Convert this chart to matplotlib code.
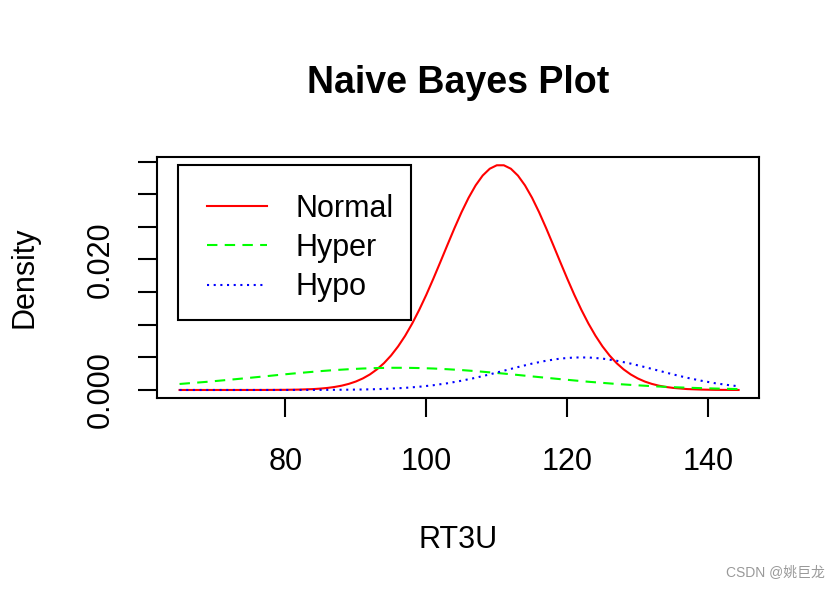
import matplotlib
matplotlib.use("Agg")
import matplotlib.pyplot as plt
from matplotlib.patches import Rectangle

# -------------------------------
# Data
# -------------------------------
rt3u = [65, 67, 69, 71, 73, 75, 77, 79, 81, 83,
        85, 87, 89, 91, 93, 95, 97, 99, 101, 103,
        105, 107, 109, 111, 113, 115, 117, 119, 121, 123,
        125, 127, 129, 131, 133, 135, 137, 139, 141, 143, 144.3]

# finer grid for the narrow "Normal" peak
rt3u_normal = [65, 69, 73, 77, 80, 82, 84, 85,
               86, 87, 88, 89, 90, 91, 92, 93, 94, 95,
               96, 97, 98, 99, 100, 101, 102, 103, 104, 105,
               106, 107, 108, 109, 110, 111, 112, 113, 114, 115,
               116, 117, 118, 119, 120, 121, 122, 123, 124, 125,
               126, 127, 128, 129, 130, 131, 132, 133, 134, 135,
               137, 139, 141, 143, 144.3]

dens_normal = [0.0, 0.0, 0.0000006, 0.000005, 0.000025, 0.00006, 0.00014, 0.000214,
               0.000317, 0.000463, 0.000661, 0.000933, 0.001294, 0.00177, 0.002381, 0.00316, 0.004112, 0.00528,
               0.006675, 0.00830, 0.010178, 0.01228, 0.01458, 0.01705, 0.01962, 0.02223, 0.02480, 0.02724,
               0.02945, 0.03135, 0.03286, 0.03390, 0.03443, 0.03443, 0.03390, 0.03285, 0.03135, 0.02946,
               0.02724, 0.02480, 0.02223, 0.01962, 0.01705, 0.01458, 0.01228, 0.01018, 0.00831, 0.00667,
               0.00528, 0.00411, 0.00315, 0.00238, 0.00177, 0.00129, 0.00093, 0.00066, 0.00046, 0.00032,
               0.00014, 0.00006, 0.00002, 0.00001, 0.0]

dens_hyper = [0.00092, 0.00109, 0.00126, 0.00146, 0.00166, 0.00187, 0.00208, 0.00230, 0.00251, 0.00270,
              0.00289, 0.00305, 0.00318, 0.00329, 0.00336, 0.00340, 0.00340, 0.00336, 0.00329, 0.00318,
              0.00305, 0.00289, 0.00270, 0.00251, 0.00230, 0.00208, 0.00187, 0.00166, 0.00146, 0.00126,
              0.00109, 0.00092, 0.00078, 0.00065, 0.00053, 0.00043, 0.00035, 0.00028, 0.00022, 0.00017, 0.00014]

dens_hypo = [0.0, 0.0, 0.0, 0.0, 0.0, 0.0, 0.000001, 0.000002, 0.000003, 0.0000065,
             0.0000126, 0.000024, 0.000043, 0.000075, 0.000127, 0.000207, 0.000326, 0.000496, 0.000729, 0.00103,
             0.00142, 0.00187, 0.00239, 0.00295, 0.00351, 0.00404, 0.00448, 0.00481, 0.00498, 0.00498,
             0.00481, 0.00448, 0.00404, 0.00351, 0.00295, 0.00239, 0.00187, 0.00142, 0.00103, 0.000729, 0.00057]

x_ticks = [80, 100, 120, 140]
y_ticks = [0.000, 0.005, 0.010, 0.015, 0.020, 0.025, 0.030, 0.035]
y_tick_labels = ["0.000", "", "", "", "0.020", "", "", ""]

# -------------------------------
# Plot setup
# -------------------------------
plt.rcParams["font.family"] = ["Liberation Sans", "DejaVu Sans"]
fs = 22

fig = plt.figure(figsize=(8.4, 5.96), dpi=100)
ax = fig.add_axes([0.1869, 0.3322, 0.9036 - 0.1869, 0.7366 - 0.3322])

ax.plot(rt3u_normal, dens_normal, color="red", linewidth=1.5, label="Normal")
ax.plot(rt3u, dens_hyper, color="#00ff00", linewidth=1.5,
        linestyle=(0, (5, 3.5)), label="Hyper")
ax.plot(rt3u, dens_hypo, color="blue", linewidth=1.5,
        linestyle=(0, (1, 2.2)), label="Hypo")

ax.set_xlim(61.8, 147.2)
ax.set_ylim(-0.00123, 0.0357)

ax.set_xticks(x_ticks)
ax.set_xticklabels([str(t) for t in x_ticks], fontsize=fs)
ax.set_yticks(y_ticks)
ax.set_yticklabels(y_tick_labels, fontsize=fs, rotation=90, va="center")
ax.tick_params(axis="both", length=14, width=1.5, color="black")
ax.tick_params(axis="x", pad=21)
ax.tick_params(axis="y", pad=16)

for sp in ax.spines.values():
    sp.set_linewidth(1.5)

ax.set_xlabel("RT3U", fontsize=fs, labelpad=35)
ax.set_ylabel("Density", fontsize=fs, labelpad=33)
ax.set_title("Naive Bayes Plot", fontsize=27, fontweight="bold", pad=46)

# legend entries, with an R-style box drawn around them
ax.legend(loc="upper left", bbox_to_anchor=(0.0349, 0.9668),
          borderaxespad=0, fontsize=fs, frameon=False, handlelength=1.95,
          handletextpad=0.95, labelspacing=0.3, borderpad=0.95)
ax.add_patch(Rectangle((0.0349, 0.3237), 0.4219 - 0.0349, 0.9668 - 0.3237,
                       transform=ax.transAxes, fill=False, edgecolor="black",
                       linewidth=1.5, zorder=5))

fig.text(0.982, 0.026, "CSDN @姚巨龙", ha="right", va="bottom", fontsize=10,
         color="#999999", family=["Liberation Sans", "Noto Sans CJK SC"])

fig.savefig("out.png", dpi=100)
